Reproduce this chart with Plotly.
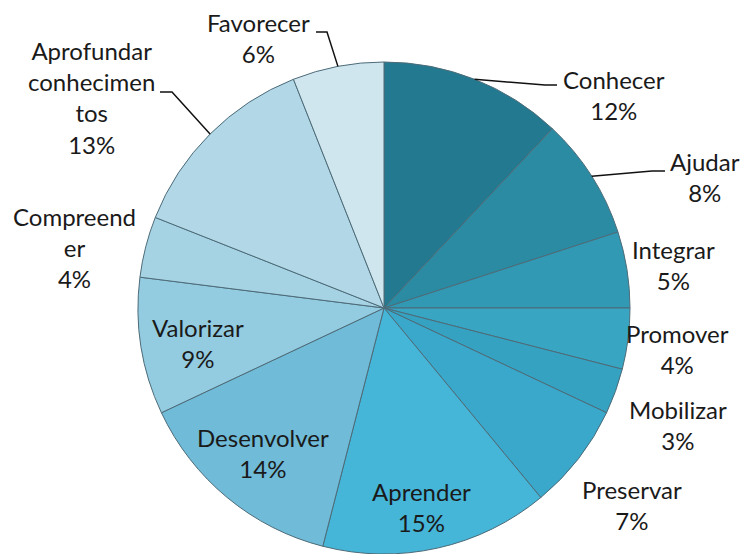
import math
import plotly.graph_objects as go

# ---- data ----
categories = ["Conhecer", "Ajudar", "Integrar", "Promover", "Mobilizar", "Preservar",
              "Aprender", "Desenvolver", "Valorizar", "Compreender",
              "Aprofundar conhecimentos", "Favorecer"]
display_labels = ["Conhecer", "Ajudar", "Integrar", "Promover", "Mobilizar", "Preservar",
                  "Aprender", "Desenvolver", "Valorizar", "Compreend<br>er",
                  "Aprofundar<br>conhecimen<br>tos", "Favorecer"]
percentages = [12, 8, 5, 4, 3, 7, 15, 14, 9, 4, 13, 6]

# ---- styles ----
colors = ["#237a90", "#2a8ba3", "#3199b3", "#38a5c2", "#35a2c2", "#3aa8cb",
          "#45b5d8", "#6fbbd8", "#93cbe0", "#a6d3e3", "#b2d8e8", "#cfe6ef"]

W, H = 746, 554
CX, CY, R = 384, 308, 246

# label centres in pixels (text placement, not data)
label_pos = [(614, 95), (705, 177), (673, 265), (677, 349), (678, 425), (632, 505),
             (421, 507), (263, 453), (198, 343), (74, 247), (91, 98), (258, 38)]
# leader line elbows / ends for outside labels with connectors
leaders = {0: [(545, 85), (557, 85)],
           1: [(652, 171), (665, 171)],
           10: [(172, 92), (160, 92)],
           11: [(327, 32), (316, 32)]}


def px(x, y):
    return x / W, 1 - y / H


fig = go.Figure(go.Pie(
    labels=categories,
    values=percentages,
    sort=False,
    direction="clockwise",
    rotation=0,
    textinfo="none",
    hoverinfo="label+percent",
    marker=dict(colors=colors, line=dict(color="#4d6b78", width=1)),
    domain=dict(x=[(CX - R) / W, (CX + R) / W], y=[1 - (CY + R) / H, 1 - (CY - R) / H]),
    showlegend=False,
))

total = sum(percentages)
annotations = []
shapes = []
cum = 0
for i, (lab, v) in enumerate(zip(display_labels, percentages)):
    mid = (cum + v / 2) / total * 2 * math.pi
    cum += v
    lx, ly = label_pos[i]
    x, y = px(lx, ly)
    annotations.append(dict(x=x, y=y, xref="paper", yref="paper",
                            text=f"{lab}<br>{round(v / total * 100)}%",
                            showarrow=False, align="center",
                            xanchor="center", yanchor="middle",
                            font=dict(family="Lato", size=24, color="#1a1a1a")))
    if i in leaders:
        rx = CX + R * math.sin(mid)
        ry = CY - R * math.cos(mid)
        pts = [(rx, ry)] + leaders[i]
        path = "M " + " L ".join(f"{px(a, b)[0]},{px(a, b)[1]}" for a, b in pts)
        shapes.append(dict(type="path", xref="paper", yref="paper", path=path,
                           line=dict(color="#111111", width=1.5)))

fig.update_layout(
    width=W, height=H,
    margin=dict(l=0, r=0, t=0, b=0),
    paper_bgcolor="white", plot_bgcolor="white",
    annotations=annotations, shapes=shapes,
)

fig.write_html("out.html", config={"displayModeBar": False},
               post_script="document.body.style.margin='0';")
